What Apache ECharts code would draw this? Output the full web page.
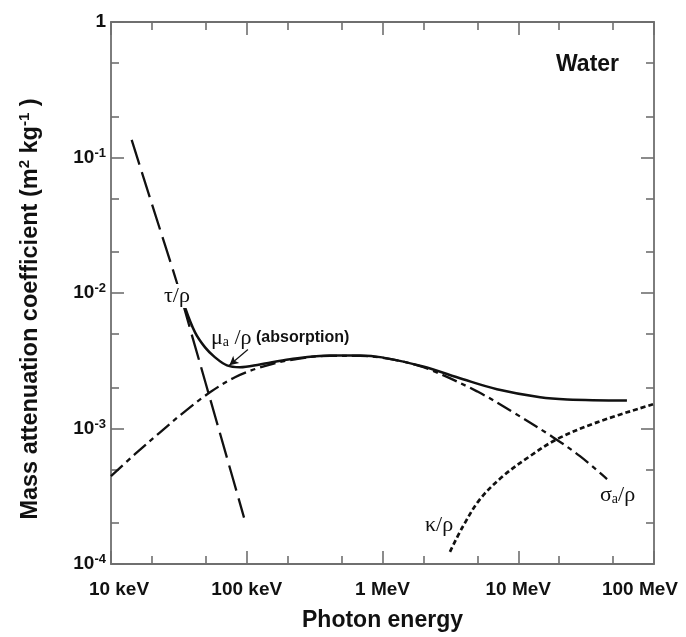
<!DOCTYPE html>
<html>
<head>
<meta charset="utf-8">
<script src="https://cdn.jsdelivr.net/npm/echarts@6/dist/echarts.min.js"></script>
<style>
  html, body { margin: 0; padding: 0; background: #ffffff; }
  #chart { width: 686px; height: 637px; }
</style>
</head>
<body>
<div id="chart"></div>
<script>
// Photon energy in MeV, coefficients in m^2 kg^-1 (water)

// tau/rho : photoelectric
const tauEnergy = [0.0142, 0.020, 0.0305, 0.040, 0.050, 0.070, 0.0955];
const tauValue  = [0.135, 0.0454, 0.0120, 0.00465, 0.00213, 0.000655, 0.00022];

// mu_a/rho : total energy absorption
const muEnergy = [0.0351, 0.0416, 0.0493, 0.0584, 0.0715, 0.0892, 0.125, 0.208, 0.41, 0.683, 0.991, 1.99, 3.92, 6.97, 14.5, 22.9, 63.2];
const muValue  = [0.00782, 0.00512, 0.00397, 0.00335, 0.00292, 0.00283, 0.00297, 0.00324, 0.00346, 0.00346, 0.00335, 0.00287, 0.00231, 0.00195, 0.00170, 0.00164, 0.00161];

// sigma_a/rho : Compton energy absorption
const sigmaEnergy = [0.01, 0.015, 0.023, 0.0351, 0.0536, 0.0819, 0.125, 0.208, 0.41, 0.683, 0.991, 1.50, 2.24, 4.97, 9.14, 18.0, 28.5, 45.1];
const sigmaValue  = [0.000445, 0.000646, 0.000938, 0.00134, 0.00185, 0.00239, 0.00282, 0.00320, 0.00344, 0.00344, 0.00333, 0.00308, 0.00272, 0.00188, 0.00132, 0.000863, 0.000625, 0.000423];

// kappa/rho : pair production
const kappaEnergy = [3.14, 3.92, 5.23, 7.72, 12.2, 19.3, 38.0, 98.4];
const kappaValue  = [0.000123, 0.000190, 0.000301, 0.000445, 0.000625, 0.000834, 0.00111, 0.00151];

// pointer from the mu_a label to the curve minimum
const arrowFrom = [0.102, 0.00383];
const arrowTo   = [0.0745, 0.00293];

// axes
const xMajor = [0.01, 0.1, 1, 10, 100];
const xMinor = [0.02, 0.05, 0.2, 0.5, 2, 5, 20, 50];
const xTickLabels = ['10 keV', '100 keV', '1 MeV', '10 MeV', '100 MeV'];
const yMajor = [1e-4, 1e-3, 1e-2, 1e-1, 1];
const yMinor = [2e-4, 5e-4, 2e-3, 5e-3, 2e-2, 5e-2, 0.2, 0.5];
const yTickLabels = ['10{e|-4}', '10{e|-3}', '10{e|-2}', '10{e|-1}', '1'];

const pairs = (xs, ys) => xs.map((x, i) => [x, ys[i]]);

function nearestIndex(ticks, value) {
  let best = 0, bestD = Infinity;
  ticks.forEach((t, i) => {
    const d = Math.abs(Math.log10(t) - Math.log10(value));
    if (d < bestD) { bestD = d; best = i; }
  });
  return best;
}

const FRAME = '#6f6f6f';
const INK = '#111111';
const SANS = '"Liberation Sans", Arial, sans-serif';
const SERIF = '"Liberation Serif", "Times New Roman", serif';

function baseAxis(min, max, position) {
  return {
    type: 'log', logBase: 10, min: min, max: max, position: position,
    splitLine: { show: false }, minorTick: { show: false }, minorSplitLine: { show: false },
    axisLine: { show: false }, axisTick: { show: false }, axisLabel: { show: false }
  };
}

function tickAxis(min, max, position, values, len, withLine) {
  const a = baseAxis(min, max, position);
  a.axisLine = { show: withLine, lineStyle: { color: FRAME, width: 1.8 } };
  a.axisTick = { show: true, inside: true, length: len, customValues: values,
                 lineStyle: { color: FRAME, width: 1.6 } };
  return a;
}

const labelFont = { fontFamily: SANS, fontWeight: 'bold', fontSize: 19, color: INK };

// bottom axis with labels and title
const xBottom = tickAxis(0.01, 100, 'bottom', xMajor, 13, true);
xBottom.axisLabel = Object.assign({
  show: true, customValues: xMajor, margin: 16,
  formatter: function (v) {
    const i = nearestIndex(xMajor, v);
    if (i === 0) return '{first|' + xTickLabels[i] + '}';
    if (i === xMajor.length - 1) return '{last|' + xTickLabels[i] + '}';
    return xTickLabels[i];
  },
  rich: {
    first: Object.assign({ padding: [0, 0, 0, 16] }, labelFont),
    last: Object.assign({ padding: [0, 28, 0, 0] }, labelFont)
  }
}, labelFont);
xBottom.name = 'Photon energy';
xBottom.nameLocation = 'middle';
xBottom.nameGap = 45;
xBottom.nameTextStyle = { color: INK, fontFamily: SANS, fontWeight: 'bold', fontSize: 23 };

// left axis with labels and title
const yLeft = tickAxis(1e-4, 1, 'left', yMajor, 13, true);
yLeft.axisLabel = Object.assign({
  show: true, customValues: yMajor, margin: 5, lineHeight: 22,
  formatter: function (v) { return yTickLabels[nearestIndex(yMajor, v)]; },
  rich: { e: { fontFamily: SANS, fontWeight: 'bold', fontSize: 13, color: INK, lineHeight: 10, verticalAlign: 'top' } }
}, labelFont);
yLeft.name = 'Mass attenuation coefficient (m{e|2} kg{e|-1} )';
yLeft.nameLocation = 'middle';
yLeft.nameRotate = 90;
yLeft.nameGap = 66;
yLeft.nameTextStyle = {
  color: INK, fontFamily: SANS, fontWeight: 'bold', fontSize: 23.5, lineHeight: 28,
  padding: [0, 32, 0, 0],
  rich: { e: { fontFamily: SANS, fontWeight: 'bold', fontSize: 15, color: INK, lineHeight: 13, verticalAlign: 'top' } }
};

const xAxes = [
  xBottom,
  tickAxis(0.01, 100, 'bottom', xMinor, 8, false),
  tickAxis(0.01, 100, 'top', xMajor, 13, true),
  tickAxis(0.01, 100, 'top', xMinor, 8, false)
];
const yAxes = [
  yLeft,
  tickAxis(1e-4, 1, 'left', yMinor, 8, false),
  tickAxis(1e-4, 1, 'right', yMajor, 13, true),
  tickAxis(1e-4, 1, 'right', yMinor, 8, false)
];

function curve(name, data, dash, width) {
  return {
    name: name, type: 'line', xAxisIndex: 0, yAxisIndex: 0,
    data: data, showSymbol: false, symbol: 'none', smooth: 0.35,
    lineStyle: { color: INK, width: width, type: dash, cap: 'butt' },
    emphasis: { disabled: true }, silent: true, z: 3
  };
}

const muSeries = curve('mu_a/rho', pairs(muEnergy, muValue), 'solid', 2.5);
muSeries.markLine = {
  silent: true, symbol: ['none', 'arrow'], symbolSize: [7, 9],
  label: { show: false },
  lineStyle: { color: INK, width: 1.2, type: 'solid' },
  data: [[{ coord: arrowFrom }, { coord: arrowTo }]]
};

const option = {
  backgroundColor: '#ffffff',
  animation: false,
  grid: { left: 111, top: 22, width: 543, height: 543, containLabel: false },
  xAxis: xAxes,
  yAxis: yAxes,
  series: [
    curve('tau/rho', pairs(tauEnergy, tauValue), [26, 8], 2.3),
    curve('sigma_a/rho', pairs(sigmaEnergy, sigmaValue), [16, 5, 5, 5], 2.3),
    curve('kappa/rho', pairs(kappaEnergy, kappaValue), [5, 3], 2.7),
    muSeries
  ],
  graphic: [
    { type: 'text', x: 556, y: 53, z: 10, silent: true,
      style: { text: 'Water', font: 'bold 23px ' + SANS, fill: INK } },
    { type: 'text', x: 163, y: 296, z: 10, silent: true,
      style: { text: 'τ/ρ', font: '22px ' + SERIF, fill: INK, verticalAlign: 'middle',
               backgroundColor: '#ffffff', padding: [1, 1, 1, 1] } },
    { type: 'text', x: 211, y: 338, z: 10, silent: true,
      style: {
        text: '{g|μ}{s|a}{g| /ρ}{b| (absorption)}', verticalAlign: 'middle', fill: INK,
        rich: {
          g: { font: '22px ' + SERIF, fill: INK },
          s: { font: '14px ' + SERIF, fill: INK, verticalAlign: 'bottom', lineHeight: 11 },
          b: { font: 'bold 16px ' + SANS, fill: INK }
        }
      } },
    { type: 'text', x: 600, y: 495, z: 10, silent: true,
      style: {
        text: '{g|σ}{s|a}{g|/ρ}', verticalAlign: 'middle', fill: INK,
        rich: {
          g: { font: '22px ' + SERIF, fill: INK },
          s: { font: '14px ' + SERIF, fill: INK, verticalAlign: 'bottom', lineHeight: 11 }
        }
      } },
    { type: 'text', x: 425, y: 525, z: 10, silent: true,
      style: { text: 'κ/ρ', font: '22px ' + SERIF, fill: INK, verticalAlign: 'middle' } }
  ]
};

const chart = echarts.init(document.getElementById('chart'), null, { renderer: 'canvas' });
chart.setOption(option);
</script>
</body>
</html>
